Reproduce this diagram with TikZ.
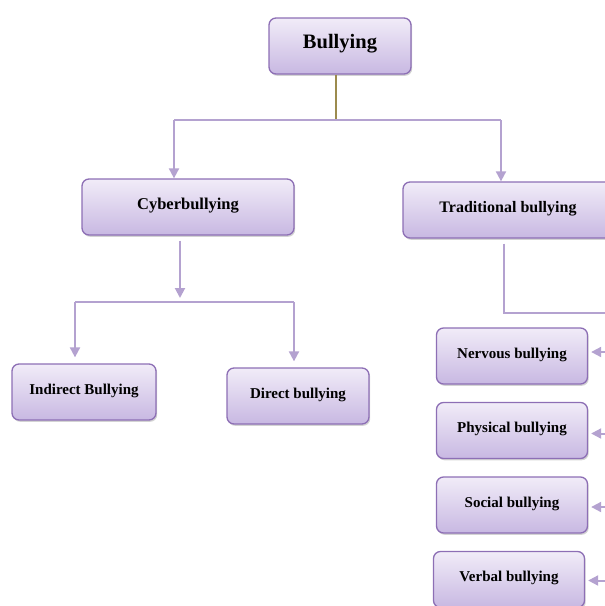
\documentclass[tikz,border=0pt]{standalone}
\usepackage{fontspec}
\setmainfont{Liberation Serif}
\usetikzlibrary{arrows.meta,positioning,shadows}
\definecolor{bpurple}{RGB}{141,111,181}
\definecolor{btop}{RGB}{241,236,248}
\definecolor{bbot}{RGB}{200,184,226}
\definecolor{blink}{RGB}{180,162,208}
\definecolor{bolive}{RGB}{156,139,78}

\begin{document}
\begin{tikzpicture}[
    x=1pt, y=-1pt,
    node distance=74.5pt,
    box/.style={rectangle, rounded corners=7pt, draw=bpurple, line width=1.3pt,
        top color=btop, bottom color=bbot,
        drop shadow={shadow xshift=1.2pt, shadow yshift=-1.8pt, opacity=0.35},
        minimum height=56pt, text depth=7pt, text height=11pt,
        font=\fontsize{15}{18}\selectfont\bfseries},
    leaf/.style={box, minimum width=151pt},
    link/.style={draw=blink, line width=2pt},
    arrowlink/.style={link, -{Triangle[width=10pt,length=10pt]}},
    olivelink/.style={draw=bolive, line width=1.2pt},
    ]

\useasboundingbox (0,0) rectangle (605,606);
\clip (0,0) rectangle (605,606);

\node[box, minimum width=142pt, font=\fontsize{20.5}{24}\selectfont\bfseries] (bull) at (340,46) {Bullying};
\node[box, minimum width=212pt, font=\fontsize{16.5}{19}\selectfont\bfseries] (cyber) at (188,207) {Cyberbullying};
\node[box, minimum width=210pt, font=\fontsize{16}{19}\selectfont\bfseries] (trad) at (508,210) {Traditional bullying};
\node[box, minimum width=144pt] (indir) at (84,392) {Indirect Bullying};
\node[box, minimum width=142pt] (dir) at (298,396) {Direct bullying};
\node[leaf] (nerv) at (512,356) {Nervous bullying};
\node[leaf, below of=nerv] (phys) {Physical bullying};
\node[leaf, below of=phys] (soc) {Social bullying};
\node[leaf, below of=soc, xshift=-3pt] (verb) {Verbal bullying};

% top level split
\coordinate (topsplit) at (336,120);
\coordinate (tl) at (174,120);
\coordinate (tr) at (501,120);
\draw[olivelink] ([xshift=-4pt]bull.south) -- (topsplit);
\draw[link] (tl) -- (tr);
\draw[arrowlink] (tl) -- (tl |- cyber.north);
\draw[arrowlink] (tr) -- (tr |- trad.north);

% cyberbullying split
\coordinate (cysplit) at (180,302);
\coordinate (cl) at (75,302);
\coordinate (cr) at (294,302);
\draw[arrowlink, shorten <=5pt, shorten >=4pt] (cyber.south -| cysplit) -- (cysplit);
\draw[link] (cl) -- (cr);
\draw[arrowlink, shorten >=6pt] (cl) -- (cl |- indir.north);
\draw[arrowlink, shorten >=6pt] (cr) -- (cr |- dir.north);

% traditional bullying branch
\coordinate (tdrop) at (504,313);
\coordinate (rside) at (625,313);
\draw[link, shorten <=5pt] (trad.south -| tdrop) -- (tdrop) -- (rside);
\draw[link] (rside) -- (rside |- verb.east);
\draw[arrowlink, shorten >=3pt] ([yshift=4pt]nerv.east -| rside) -- ([yshift=4pt]nerv.east);
\draw[arrowlink, shorten >=3pt] ([yshift=-3pt]phys.east -| rside) -- ([yshift=-3pt]phys.east);
\draw[arrowlink, shorten >=3pt] ([yshift=-2pt]soc.east -| rside) -- ([yshift=-2pt]soc.east);
\draw[arrowlink, shorten >=3pt] ([yshift=-1pt]verb.east -| rside) -- ([yshift=-1pt]verb.east);

\end{tikzpicture}
\end{document}
